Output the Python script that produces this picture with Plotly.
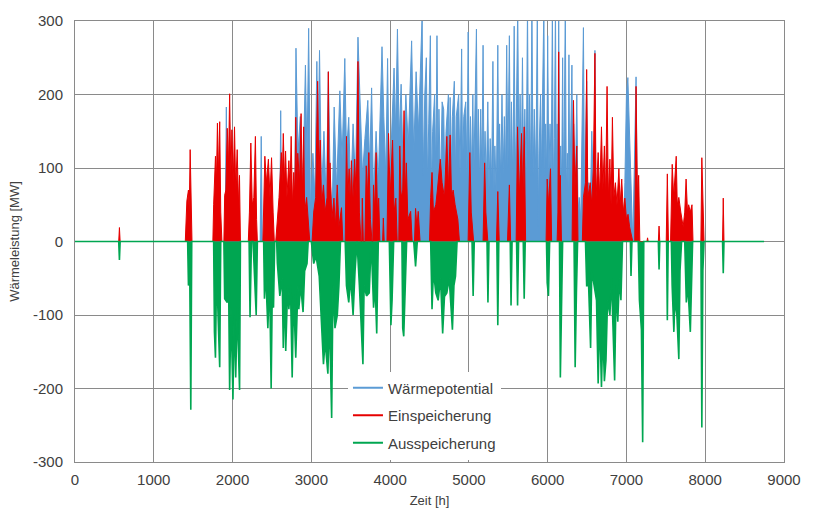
import plotly.graph_objects as go

# Wärmepotential (hour, MW)
potential_points = [
    (0, 0), (1905, 0), (1921, 183), (1937, 0),
    (2350, 0), (2364, 143), (2378, 0),
    (2598, 0), (2611, 178), (2625, 0),
    (2785, 0), (2805, 263), (2830, 120), (2860, 170), (2890, 60), (2925, 240), (2945, 110),
    (2966, 290), (2990, 40), (3020, 120), (3045, 60), (3070, 245), (3085, 120), (3104, 260),
    (3130, 60), (3160, 150), (3190, 50), (3216, 231), (3240, 80), (3265, 40), (3290, 183),
    (3320, 70), (3362, 205), (3390, 110), (3425, 249), (3446, 120), (3475, 169), (3500, 60),
    (3530, 160), (3560, 80), (3592, 278), (3620, 170), (3650, 90), (3680, 140), (3717, 192),
    (3740, 100), (3765, 209), (3790, 60), (3822, 150), (3850, 80), (3897, 265), (3920, 170),
    (3945, 90), (3968, 249), (3990, 60), (4010, 120), (4050, 236), (4070, 150), (4093, 289),
    (4115, 140), (4140, 214), (4165, 100), (4200, 200), (4230, 130), (4273, 273), (4300, 120),
    (4330, 231), (4360, 150), (4407, 310), (4420, 90), (4440, 200), (4460, 250), (4475, 80),
    (4490, 160), (4511, 280), (4525, 70), (4540, 150), (4565, 200), (4580, 90), (4595, 280),
    (4610, 100), (4620, 180), (4640, 70), (4660, 190), (4680, 180), (4695, 80), (4710, 150),
    (4740, 200), (4750, 90), (4762, 196), (4780, 100), (4790, 170), (4815, 218), (4828, 90),
    (4840, 170), (4870, 200), (4888, 90), (4908, 262), (4920, 100), (4935, 170), (4960, 190),
    (4975, 90), (4991, 285), (5005, 100), (5020, 170), (5035, 90), (5050, 200), (5062, 90),
    (5075, 150), (5096, 289), (5108, 100), (5120, 180), (5135, 80), (5150, 180), (5165, 90),
    (5180, 267), (5192, 90), (5205, 150), (5222, 80), (5240, 190), (5255, 70), (5270, 140),
    (5288, 80), (5305, 245), (5318, 70), (5330, 130), (5348, 60), (5367, 267), (5380, 90),
    (5390, 160), (5405, 80), (5420, 200), (5435, 90), (5450, 170), (5465, 90), (5480, 267),
    (5495, 100), (5514, 280), (5527, 90), (5540, 190), (5558, 80), (5575, 293), (5588, 90),
    (5600, 150), (5620, 320), (5635, 100), (5650, 200), (5665, 90), (5680, 250), (5695, 90),
    (5710, 180), (5727, 90), (5744, 320), (5757, 100), (5770, 200), (5785, 90), (5800, 320),
    (5815, 90), (5830, 180), (5850, 90), (5869, 320), (5880, 20), (5890, 120), (5910, 200),
    (5920, 90), (5930, 160), (5952, 320), (5963, 90), (5975, 160), (5988, 90), (6000, 280),
    (6015, 90), (6030, 160), (6045, 90), (6060, 320), (6072, 80), (6085, 140), (6099, 320),
    (6110, 90), (6120, 160), (6130, 90), (6140, 320), (6152, 70), (6165, 130), (6178, 80),
    (6190, 250), (6200, 80), (6210, 150), (6224, 320), (6237, 70), (6250, 120), (6260, 70),
    (6270, 254), (6280, 70), (6290, 130), (6308, 240), (6320, 80), (6330, 160), (6350, 70),
    (6370, 200), (6385, 40), (6400, 60), (6420, 30), (6454, 291), (6468, 60), (6480, 120),
    (6495, 218), (6508, 60), (6520, 80), (6540, 40), (6560, 150), (6590, 30), (6600, 260),
    (6615, 0), (6960, 0), (6980, 80), (7000, 200), (7018, 223), (7040, 150), (7060, 60),
    (7080, 0), (7100, 100), (7122, 224), (7140, 0), (8747, 0),
]

# Einspeicherung (hour, MW)
charge_points = [
    (0, 0), (555, 0), (564, 19), (573, 0),
    (1400, 0), (1410, 45), (1420, 55), (1440, 70), (1450, 40), (1462, 125), (1475, 40), (1485, 0),
    (1750, 0), (1760, 50), (1783, 116), (1795, 80), (1808, 161), (1820, 90), (1837, 163),
    (1850, 40), (1865, 0), (1890, 0), (1900, 63), (1915, 70), (1933, 154), (1948, 100),
    (1963, 201), (1978, 90), (1992, 152), (2008, 80), (2025, 156), (2040, 70), (2059, 125),
    (2075, 50), (2088, 90), (2100, 0),
    (2200, 0), (2214, 40), (2232, 134), (2250, 50), (2270, 60), (2290, 143), (2305, 30), (2315, 0),
    (2385, 0), (2395, 60), (2410, 116), (2430, 80), (2455, 112), (2475, 60), (2495, 114),
    (2515, 40), (2530, 0),
    (2548, 0), (2569, 32), (2590, 60), (2619, 121), (2630, 80), (2644, 147), (2660, 80),
    (2673, 123), (2690, 60), (2715, 110), (2730, 70), (2744, 143), (2760, 50), (2777, 94),
    (2790, 60), (2802, 169), (2815, 70), (2828, 120), (2850, 80), (2870, 174), (2885, 60),
    (2903, 156), (2915, 40), (2940, 60), (2960, 30), (2980, 0),
    (3010, 0), (3030, 40), (3055, 60), (3080, 218), (3095, 90), (3113, 138), (3130, 50),
    (3154, 77), (3175, 40), (3200, 60), (3216, 231), (3228, 60), (3237, 107), (3260, 30),
    (3287, 59), (3305, 20), (3329, 77), (3350, 20), (3383, 46), (3400, 0),
    (3430, 0), (3446, 143), (3462, 60), (3480, 99), (3495, 50), (3509, 110), (3525, 50),
    (3550, 112), (3570, 60), (3592, 245), (3610, 40), (3630, 0),
    (3640, 0), (3647, 59), (3660, 0), (3680, 0), (3697, 103), (3712, 60), (3730, 121),
    (3750, 30), (3770, 0), (3780, 0), (3789, 77), (3805, 40), (3822, 121), (3840, 40),
    (3855, 59), (3870, 0), (3905, 0), (3914, 32), (3925, 0),
    (3960, 0), (3980, 147), (4000, 60), (4031, 138), (4050, 40), (4073, 59), (4090, 0),
    (4110, 0), (4123, 130), (4140, 60), (4160, 70), (4177, 178), (4190, 60), (4206, 107),
    (4225, 30), (4261, 41), (4280, 0), (4310, 0), (4323, 45), (4340, 20), (4357, 41), (4380, 0),
    (4500, 0), (4515, 60), (4532, 94), (4550, 40), (4580, 50), (4600, 70), (4637, 112),
    (4660, 80), (4690, 60), (4720, 143), (4740, 70), (4762, 145), (4780, 60), (4800, 70),
    (4825, 50), (4860, 30), (4880, 0),
    (4990, 0), (5012, 121), (5030, 40), (5060, 0), (5180, 0), (5200, 107), (5215, 40), (5240, 0),
    (5350, 0), (5367, 68), (5385, 0), (5490, 0), (5514, 77), (5530, 0),
    (5600, 0), (5618, 156), (5640, 60), (5668, 147), (5685, 60), (5702, 156), (5720, 0),
    (5980, 0), (5994, 85), (6010, 50), (6036, 99), (6050, 0),
    (6120, 0), (6130, 40), (6140, 258), (6150, 60), (6161, 90), (6175, 0),
    (6310, 0), (6328, 192), (6345, 70), (6370, 130), (6385, 0),
    (6440, 0), (6454, 60), (6480, 80), (6495, 234), (6510, 60), (6540, 80), (6560, 50),
    (6580, 100), (6600, 256), (6615, 60), (6641, 121), (6660, 60), (6683, 156), (6700, 70),
    (6720, 130), (6735, 60), (6754, 211), (6770, 60), (6790, 112), (6805, 50), (6822, 169),
    (6840, 60), (6860, 80), (6880, 50), (6904, 99), (6920, 50), (6940, 85), (6960, 40),
    (6980, 59), (7000, 30), (7020, 37), (7040, 20), (7060, 10), (7080, 0),
    (7105, 0), (7122, 211), (7140, 60), (7155, 90), (7170, 0),
    (7260, 0), (7268, 5), (7276, 0), (7405, 0), (7414, 21), (7423, 0),
    (7505, 0), (7519, 92), (7533, 0), (7560, 0), (7570, 40), (7581, 105), (7600, 60),
    (7632, 116), (7645, 50), (7665, 60), (7690, 40), (7720, 20), (7740, 40), (7757, 85),
    (7775, 40), (7790, 50), (7810, 40), (7832, 50), (7845, 0),
    (7945, 0), (7957, 114), (7970, 40), (7985, 0), (8220, 0), (8229, 59), (8238, 0), (8747, 0),
]

# Ausspeicherung (hour, MW)
discharge_points = [
    (0, 0), (555, 0), (564, -25), (573, 0),
    (1430, 0), (1440, -60), (1455, -20), (1470, -229), (1482, 0),
    (1760, 0), (1770, -123), (1783, -158), (1795, -60), (1810, -80), (1837, -171), (1850, 0),
    (1890, 0), (1900, -78), (1933, -83), (1950, -60), (1963, -202), (1980, -90), (2005, -215),
    (2020, -100), (2040, -185), (2060, -90), (2089, -202), (2100, 0),
    (2210, 0), (2222, -103), (2240, 0), (2260, 0), (2300, -100), (2315, 0),
    (2395, 0), (2405, -78), (2420, -40), (2448, -118), (2470, -50), (2490, -200), (2505, -60),
    (2520, -90), (2535, 0),
    (2560, 0), (2569, -30), (2600, -74), (2630, -50), (2644, -145), (2660, -60), (2675, -149),
    (2700, -60), (2715, -92), (2735, -60), (2757, -185), (2775, -70), (2802, -158), (2830, -60),
    (2841, -92), (2865, -60), (2895, -96), (2915, -40), (2945, -30), (2960, 0),
    (3000, 0), (3030, -30), (3060, -20), (3100, -47), (3133, -118), (3154, -167), (3175, -136),
    (3210, -180), (3230, -100), (3258, -240), (3275, -60), (3300, -118), (3330, -100),
    (3350, -60), (3370, 0), (3430, 0), (3446, -60), (3475, -83), (3500, -50), (3530, -100),
    (3555, -40), (3580, 0), (3610, -60), (3625, -96), (3655, -167), (3670, -60), (3700, -74),
    (3735, -70), (3760, 0), (3790, -90), (3810, -60), (3830, -125), (3850, 0),
    (3990, 0), (4010, -114), (4025, -80), (4045, 0), (4150, 0), (4160, -118), (4173, -129),
    (4190, -70), (4210, 0), (4300, 0), (4323, -34), (4345, 0),
    (4515, 0), (4532, -92), (4550, -40), (4580, -70), (4610, -80), (4640, -50), (4667, -125),
    (4690, -75), (4720, -70), (4750, -50), (4791, -120), (4810, -60), (4830, -47), (4850, 0),
    (5040, 0), (5054, -74), (5068, 0), (5230, 0), (5242, -83), (5255, 0),
    (5355, 0), (5367, -114), (5380, 0), (5525, 0), (5535, -87), (5548, 0),
    (5605, 0), (5618, -87), (5631, 0), (5690, 0), (5702, -78), (5715, 0),
    (5985, 0), (5994, -56), (6010, -74), (6025, 0), (6150, 0), (6161, -185), (6175, -105),
    (6190, 0), (6335, 0), (6349, -171), (6365, -70), (6380, 0),
    (6480, 0), (6495, -60), (6520, -60), (6545, -145), (6560, -40), (6590, -60), (6620, -80),
    (6641, -193), (6660, -100), (6683, -198), (6700, -120), (6720, -190), (6740, -162),
    (6760, -80), (6790, -100), (6810, -50), (6850, -189), (6870, -60), (6890, -109),
    (6910, -50), (6930, -80), (6950, 0), (7050, 0), (7058, -47), (7070, 0),
    (7150, 0), (7165, -80), (7190, -120), (7206, -273), (7220, 0),
    (7405, 0), (7414, -38), (7423, 0), (7510, 0), (7519, -107), (7530, 0),
    (7570, 0), (7580, -60), (7602, -123), (7615, -80), (7640, -100), (7665, -160), (7680, -40),
    (7700, 0), (7740, 0), (7760, -83), (7780, -60), (7811, -123), (7825, -69), (7840, 0),
    (7945, 0), (7957, -253), (7970, -40), (7985, 0), (8220, 0), (8229, -43), (8238, 0), (8747, 0),
]

x_ticks = [0, 1000, 2000, 3000, 4000, 5000, 6000, 7000, 8000, 9000]
y_ticks = [-300, -200, -100, 0, 100, 200, 300]

series_names = ["Wärmepotential", "Einspeicherung", "Ausspeicherung"]
series_points = [potential_points, charge_points, discharge_points]
series_colors = ["#5B9BD5", "#E60000", "#00A651"]
series_widths = [1, 1, 1.6]

fig = go.Figure()
for name, pts, color, w in zip(series_names, series_points, series_colors, series_widths):
    fig.add_trace(go.Scatter(
        x=[p[0] for p in pts], y=[p[1] for p in pts], name=name, mode="lines",
        line=dict(color=color, width=w),
        fill="tozeroy", fillcolor=color, showlegend=False,
    ))
# legend entries drawn as plain line samples
for i, (name, color) in enumerate(zip(series_names, series_colors)):
    fig.add_trace(go.Scatter(
        x=[None], y=[None], name=name, mode="lines",
        line=dict(color=color, width=2), legendgroup=f"g{i}",
    ))

font_family = "Liberation Sans, Arial, sans-serif"
grid_col = "#8a8a8a"

fig.update_layout(
    width=813, height=517,
    margin=dict(l=75, r=20, t=15, b=50),
    paper_bgcolor="white", plot_bgcolor="white",
    font=dict(family=font_family, size=15, color="#404040"),
    showlegend=True,
    legend=dict(
        x=0.385, y=0.205, xanchor="left", yanchor="top",
        bgcolor="white", borderwidth=0,
        font=dict(size=15, color="#404040"),
        tracegroupgap=5,
    ),
    xaxis=dict(
        range=[0, 9000], tickvals=x_ticks, ticktext=[str(v) for v in x_ticks],
        showgrid=True, gridcolor=grid_col, gridwidth=1,
        showline=True, linecolor=grid_col, mirror=True, zeroline=False,
        ticks="", ticklabelstandoff=4, tickfont=dict(size=15),
        title=dict(text="Zeit [h]", standoff=8, font=dict(size=13)),
    ),
    yaxis=dict(
        range=[-300, 300], tickvals=y_ticks, ticktext=[str(v) for v in y_ticks],
        showgrid=True, gridcolor=grid_col, gridwidth=1,
        showline=True, linecolor=grid_col, mirror=True, zeroline=False,
        ticks="", ticklabelstandoff=8, tickfont=dict(size=15),
        title=dict(text="Wärmeleistung [MW]", standoff=10, font=dict(size=13)),
    ),
)

fig.write_html("out.html")
